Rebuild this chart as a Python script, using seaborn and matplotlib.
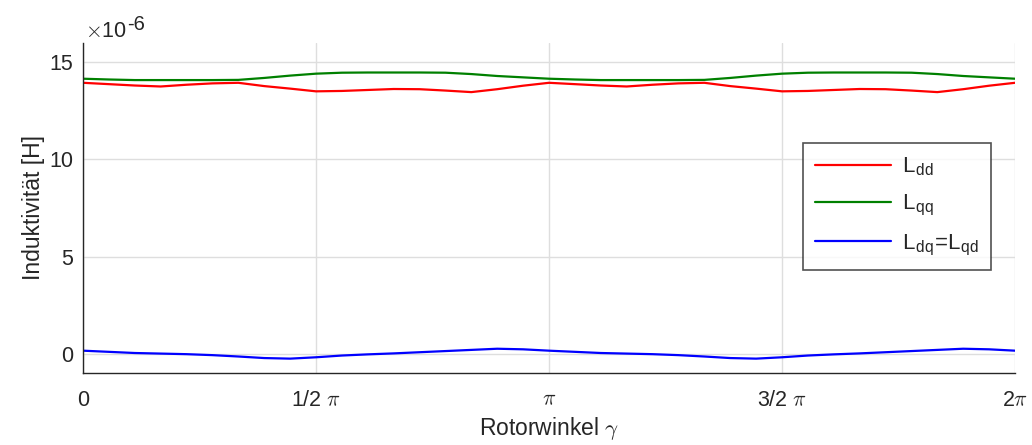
import numpy as np
import pandas as pd
import matplotlib
matplotlib.use("Agg")
import matplotlib.pyplot as plt
import seaborn as sns

# Rotor angle in degrees (10 degree steps over one electrical revolution)
angle_deg = [0, 10, 20, 30, 40, 50, 60, 70, 80, 90, 100, 110, 120, 130, 140, 150, 160, 170,
             180, 190, 200, 210, 220, 230, 240, 250, 260, 270, 280, 290, 300, 310, 320, 330,
             340, 350, 360]

# Inductances in units of 1e-6 H
L_dd = [13.95, 13.88, 13.81, 13.76, 13.85, 13.92, 13.95, 13.78, 13.65, 13.51, 13.53, 13.58,
        13.63, 13.62, 13.55, 13.47, 13.62, 13.80, 13.95, 13.88, 13.81, 13.76, 13.85, 13.92,
        13.95, 13.78, 13.65, 13.51, 13.53, 13.58, 13.63, 13.62, 13.55, 13.47, 13.62, 13.80,
        13.95]
L_qq = [14.16, 14.12, 14.09, 14.09, 14.09, 14.09, 14.10, 14.20, 14.32, 14.42, 14.47, 14.48,
        14.48, 14.48, 14.47, 14.40, 14.30, 14.23, 14.16, 14.12, 14.09, 14.09, 14.09, 14.09,
        14.10, 14.20, 14.32, 14.42, 14.47, 14.48, 14.48, 14.48, 14.47, 14.40, 14.30, 14.23,
        14.16]
L_dq = [0.15, 0.09, 0.03, 0.00, -0.03, -0.08, -0.15, -0.23, -0.26, -0.19, -0.10, -0.04,
        0.01, 0.07, 0.13, 0.19, 0.25, 0.22, 0.15, 0.09, 0.03, 0.00, -0.03, -0.08, -0.15,
        -0.23, -0.26, -0.19, -0.10, -0.04, 0.01, 0.07, 0.13, 0.19, 0.25, 0.22, 0.15]

series_labels = [r"L$_\mathregular{dd}$", r"L$_\mathregular{qq}$",
                 r"L$_\mathregular{dq}$=L$_\mathregular{qd}$"]
series_colors = ["#ff0000", "#008000", "#0000ff"]

x_tick_labels = ["0", r"1/2 $\pi$", r"$\pi$", r"3/2 $\pi$", r"2$\pi$"]
y_ticks = [0, 5, 10, 15]

sns.set_style("white")
plt.rcParams["font.family"] = ["Liberation Sans", "DejaVu Sans"]
plt.rcParams["mathtext.fontset"] = "cm"

gamma = np.deg2rad(angle_deg)
df = pd.concat([
    pd.DataFrame({"gamma": gamma, "L": vals, "Serie": lab})
    for vals, lab in zip([L_dd, L_qq, L_dq], series_labels)
], ignore_index=True)

W, H = 1032, 445
fig = plt.figure(figsize=(W / 100, H / 100), dpi=100)
ax = fig.add_axes([83 / W, 72 / H, (1015 - 83) / W, (373 - 43) / H])

sns.lineplot(data=df, x="gamma", y="L", hue="Serie", palette=series_colors,
             hue_order=series_labels, linewidth=1.6, ax=ax, sort=False)

ax.set_xlim(0, 2 * np.pi)
ax.set_ylim(-1, 16)
ax.set_xticks([0, np.pi / 2, np.pi, 3 * np.pi / 2, 2 * np.pi])
ax.set_xticklabels(x_tick_labels)
ax.set_yticks(y_ticks)

ax.grid(True, color="#dedede", linewidth=1.0)
for side in ["top", "right"]:
    ax.spines[side].set_visible(False)
for side in ["left", "bottom"]:
    ax.spines[side].set_color("#262626")
    ax.spines[side].set_linewidth(1.0)
ax.tick_params(axis="both", direction="in", length=5, width=1.0, colors="#262626",
               labelsize=15.5, labelcolor="#262626")
ax.tick_params(axis="x", pad=12)
ax.tick_params(axis="y", pad=7)

ax.set_xlabel(r"Rotorwinkel $\gamma$", fontsize=16.5, color="#262626", labelpad=3)
ax.set_ylabel("Induktivität [H]", fontsize=16.5, color="#262626", labelpad=3)

# Exponent marker above the y axis
fig.text(85 / W, (H - 37) / H, r"$\times$10", fontsize=15.5, color="#262626",
         ha="left", va="baseline")
fig.text(127 / W, (H - 30) / H, "-6", fontsize=14.5, color="#262626",
         ha="left", va="baseline")

leg = ax.legend(loc="upper left", bbox_to_anchor=(709 / 932, (373 - 132) / 330),
                fontsize=16, frameon=True, fancybox=False, edgecolor="#262626",
                handlelength=3.4, borderpad=0.55, labelspacing=0.66, handletextpad=0.5)
leg.get_frame().set_linewidth(1.2)
leg.set_title(None)

fig.savefig("out.png", dpi=100)
